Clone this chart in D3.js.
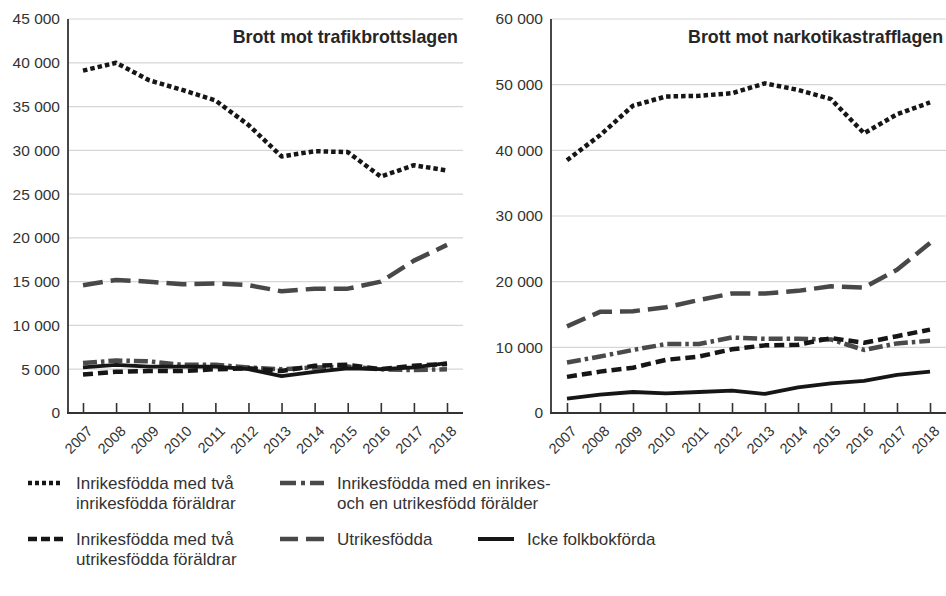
<!DOCTYPE html>
<html>
<head>
<meta charset="utf-8">
<script src="https://cdn.jsdelivr.net/npm/d3@7"></script>
<style>
  body { margin: 0; background: #fff; }
  svg { font-family: "Liberation Sans", Arial, sans-serif; }
</style>
</head>
<body>
<div id="chart"></div>
<script>
// years on the x axis
const years = [2007, 2008, 2009, 2010, 2011, 2012, 2013, 2014, 2015, 2016, 2017, 2018]

// Brott mot trafikbrottslagen
const trafik_inrikesTva = [39100, 40000, 38000, 36900, 35700, 32900, 29300, 29900, 29800, 27000, 28300, 27700]
const trafik_enInrikes  = [5700, 6000, 5900, 5500, 5500, 5200, 5000, 5200, 5300, 5000, 4900, 5000]
const trafik_utrikesTva = [4400, 4700, 4800, 4800, 5000, 5100, 4800, 5400, 5500, 5000, 5400, 5600]
const trafik_utrikes    = [14600, 15200, 15000, 14700, 14800, 14600, 13900, 14200, 14200, 15000, 17400, 19200]
const trafik_icke       = [5200, 5500, 5300, 5300, 5300, 5000, 4200, 4700, 5100, 5000, 5200, 5700]

// Brott mot narkotikastrafflagen
const narko_inrikesTva = [38500, 42300, 46800, 48200, 48300, 48700, 50200, 49200, 47800, 42600, 45500, 47300]
const narko_enInrikes  = [7700, 8600, 9600, 10500, 10500, 11500, 11300, 11300, 11200, 9600, 10600, 11000]
const narko_utrikesTva = [5500, 6300, 6900, 8100, 8600, 9700, 10300, 10400, 11400, 10700, 11700, 12700]
const narko_utrikes    = [13200, 15400, 15500, 16100, 17200, 18200, 18200, 18600, 19300, 19100, 21800, 25900]
const narko_icke       = [2200, 2800, 3200, 3000, 3200, 3400, 2900, 3900, 4500, 4900, 5800, 6300]

const trafikTicks = [0, 5000, 10000, 15000, 20000, 25000, 30000, 35000, 40000, 45000]
const narkoTicks = [0, 10000, 20000, 30000, 40000, 50000, 60000]

// line styles, one per group
const STYLES = {
    inrikesTva: { color: "#161616", width: 4.5, dash: "4.5,3", legendDash: "4,3" },
    enInrikes:  { color: "#4a4a4a", width: 4.5, dash: "14,4,3.5,4", legendDash: "16,5,4,5" },
    utrikesTva: { color: "#161616", width: 4.5, dash: "10,5", legendDash: "9,4" },
    utrikes:    { color: "#484848", width: 4.5, dash: "20,8", legendDash: "18,8" },
    icke:       { color: "#161616", width: 3.8, dash: null, legendDash: null }
}

const WIDTH = 946
const HEIGHT = 596
const TOP = 19
const BOTTOM = 413

const svg = d3.select("#chart").append("svg")
    .attr("width", WIDTH)
    .attr("height", HEIGHT)

const fmt = d3.formatLocale({ decimal: ",", thousands: " ", grouping: [3], currency: ["", ""] }).format(",")

function drawPanel(p) {
    const g = svg.append("g")

    const x = d3.scaleLinear()
        .domain([years[0], years[years.length - 1]])
        .range([p.x0, p.x1])

    const y = d3.scaleLinear()
        .domain([0, p.ticks[p.ticks.length - 1]])
        .range([BOTTOM, TOP])

    // gridlines
    g.selectAll(".grid")
        .data(p.ticks.filter(t => t > 0))
        .enter().append("line")
        .attr("x1", p.axisX).attr("x2", p.gridEnd)
        .attr("y1", d => y(d)).attr("y2", d => y(d))
        .attr("stroke", "#d6d6d6")
        .attr("stroke-width", 1.2)

    // y axis (labels only, own line below)
    const yAxis = g.append("g")
        .attr("transform", `translate(${p.axisX},0)`)
        .call(d3.axisLeft(y).tickValues(p.ticks).tickFormat(fmt).tickSize(0).tickPadding(8))
    yAxis.select(".domain").remove()
    yAxis.selectAll("text")
        .attr("fill", "#333")
        .attr("font-size", 15.5)
        .attr("font-family", "Liberation Sans, Arial, sans-serif")

    g.append("line")
        .attr("x1", p.axisX).attr("x2", p.axisX)
        .attr("y1", TOP).attr("y2", BOTTOM)
        .attr("stroke", "#333").attr("stroke-width", 1.8)

    // x axis, ticks pointing up
    const xAxis = g.append("g")
        .attr("transform", `translate(0,${BOTTOM})`)
        .call(d3.axisBottom(x).tickValues(years).tickFormat(d3.format("d")).tickSize(-10).tickSizeOuter(0))
    xAxis.select(".domain").remove()
    xAxis.selectAll(".tick line").attr("stroke", "#333").attr("stroke-width", 1.6)
    xAxis.selectAll("text")
        .attr("fill", "#333")
        .attr("font-size", 14.5)
        .attr("font-family", "Liberation Sans, Arial, sans-serif")
        .attr("text-anchor", "end")
        .attr("y", 0).attr("dy", 0)
        .attr("transform", "translate(10,19) rotate(-45)")

    g.append("line")
        .attr("x1", p.axisX - 1).attr("x2", p.gridEnd)
        .attr("y1", BOTTOM).attr("y2", BOTTOM)
        .attr("stroke", "#333").attr("stroke-width", 1.8)

    // title
    g.append("text")
        .attr("x", p.titleX).attr("y", 43)
        .attr("text-anchor", "end")
        .attr("font-size", 17.8)
        .attr("font-weight", "bold")
        .attr("fill", "#262626")
        .text(p.title)

    const line = d3.line()
        .x((d, i) => x(years[i]))
        .y(d => y(d))

    p.series.forEach(s => {
        const st = STYLES[s.key]
        g.append("path")
            .datum(s.values)
            .attr("d", line)
            .attr("fill", "none")
            .attr("stroke", st.color)
            .attr("stroke-width", st.width)
            .attr("stroke-dasharray", st.dash)
            .attr("stroke-linejoin", "round")
    })
}

drawPanel({
    title: "Brott mot trafikbrottslagen",
    axisX: 68, gridEnd: 463, x0: 83, x1: 447, titleX: 458,
    ticks: trafikTicks,
    series: [
        { key: "utrikes", values: trafik_utrikes },
        { key: "enInrikes", values: trafik_enInrikes },
        { key: "icke", values: trafik_icke },
        { key: "utrikesTva", values: trafik_utrikesTva },
        { key: "inrikesTva", values: trafik_inrikesTva }
    ]
})

drawPanel({
    title: "Brott mot narkotikastrafflagen",
    axisX: 551, gridEnd: 946, x0: 567, x1: 930, titleX: 943,
    ticks: narkoTicks,
    series: [
        { key: "utrikes", values: narko_utrikes },
        { key: "enInrikes", values: narko_enInrikes },
        { key: "icke", values: narko_icke },
        { key: "utrikesTva", values: narko_utrikesTva },
        { key: "inrikesTva", values: narko_inrikesTva }
    ]
})

// legend
const legendItems = [
    { key: "inrikesTva", lines: ["Inrikesfödda med två", "inrikesfödda föräldrar"], x: 28, y: 483, len: 35, tx: 76 },
    { key: "enInrikes", lines: ["Inrikesfödda med en inrikes-", "och en utrikesfödd förälder"], x: 280, y: 483, len: 44, tx: 337 },
    { key: "utrikesTva", lines: ["Inrikesfödda med två", "utrikesfödda föräldrar"], x: 28, y: 539, len: 35, tx: 76 },
    { key: "utrikes", lines: ["Utrikesfödda"], x: 280, y: 539, len: 44, tx: 337 },
    { key: "icke", lines: ["Icke folkbokförda"], x: 478, y: 539, len: 36, tx: 527 }
]

const legend = svg.append("g")
legendItems.forEach(it => {
    const st = STYLES[it.key]
    legend.append("line")
        .attr("x1", it.x).attr("x2", it.x + it.len)
        .attr("y1", it.y).attr("y2", it.y)
        .attr("stroke", st.color)
        .attr("stroke-width", st.width)
        .attr("stroke-dasharray", st.legendDash)
    const t = legend.append("text")
        .attr("y", it.y + 6)
        .attr("font-size", 17)
        .attr("fill", "#333")
    it.lines.forEach((l, i) => {
        t.append("tspan")
            .attr("x", it.tx)
            .attr("dy", i === 0 ? 0 : 20)
            .text(l)
    })
})
</script>
</body>
</html>
